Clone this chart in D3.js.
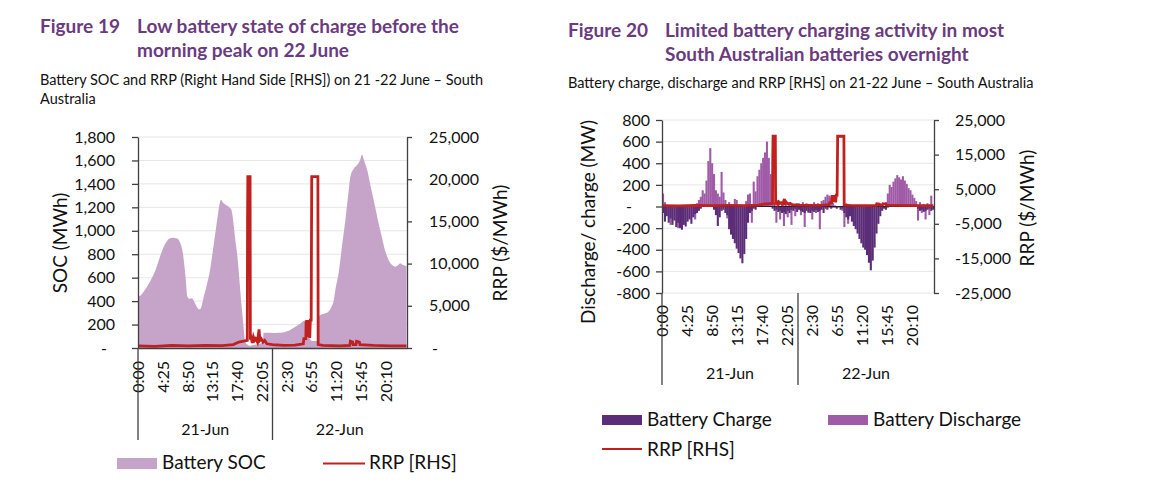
<!DOCTYPE html>
<html>
<head>
<meta charset="utf-8">
<script src="https://cdn.jsdelivr.net/npm/d3@7"></script>
<style>
  body { margin: 0; background: #fff; }
  svg text { font-family: Lato, "Open Sans", sans-serif; fill: #111; }
</style>
</head>
<body>
<svg id="chart" width="1153" height="500"></svg>
<script>
// ---- data ----
// x positions are hours since 0:00 on 21 June (48 hours shown)
const timeTickLabels = ["0:00", "4:25", "8:50", "13:15", "17:40", "22:05", "2:30", "6:55", "11:20", "15:45", "20:10"];
const dayLabels = ["21-Jun", "22-Jun"];

// Figure 19 - battery state of charge (MWh)
const socHours = [0, 0.5, 1, 2, 3, 4, 4.5, 5, 5.5, 6.2, 7, 7.5, 8, 8.5, 8.8, 9.2, 9.6, 10, 10.5, 11, 11.3, 11.8,
  12.2, 12.8, 13.3, 13.8, 14.2, 14.6, 14.8, 15.2, 15.7, 16.3, 16.7, 17, 17.3, 17.8, 18.1, 18.5, 18.8, 19.1, 19.5,
  20, 21, 22, 22.3, 22.4, 23, 24, 25, 26, 27, 28, 29, 29.6, 30, 30.5, 31, 32, 32.2, 32.5, 33, 33.7, 34.4, 34.9,
  35.3, 35.8, 36.4, 37, 37.5, 37.9, 38.5, 39.1, 39.6, 40, 40.2, 40.5, 41, 41.4, 42.3, 43, 43.5, 44.1, 44.7, 45.3,
  45.9, 46.5, 46.8, 47.2, 47.9];
const socMWh = [440, 450, 480, 555, 650, 790, 853, 900, 930, 940, 935, 900, 810, 600, 440, 420, 425, 400, 350, 330, 350, 450,
  523, 650, 810, 980, 1120, 1240, 1265, 1240, 1220, 1200, 1170, 1080, 950, 750, 580, 350, 200, 60, 30,
  20, 30, 40, 60, 130, 130, 128, 130, 135, 150, 180, 210, 230, 200, 100, 60, 60, 260, 280, 290, 300, 340, 400,
  520, 640, 870, 1092, 1300, 1462, 1530, 1561, 1600, 1650, 1620, 1576, 1500, 1405, 1206, 1050, 950, 830, 751, 710,
  694, 710, 723, 710, 700];

// regional reference price ($/MWh), shared by both figures
const rrpHours = [0, 3, 6, 9, 12, 15, 17, 18, 19.5, 19.55, 19.6, 20.0, 20.05, 20.2, 20.4, 20.6, 20.8, 21, 21.3,
  21.6, 21.75, 22, 22.3, 22.6, 23, 24, 26, 28, 29.5, 29.6, 29.95, 30.0, 30.15, 30.25, 30.4, 30.5, 30.65, 30.75,
  30.9, 31.0, 32.1, 32.15, 33, 36, 37.8, 37.9, 38.3, 38.4, 38.9, 39, 39.5, 39.6, 42, 45, 47.9];
const rrpPrice = [250, 200, 300, 250, 300, 280, 400, 700, 900, 15200, 20300, 20300, 1000, 1200, 600, 1300, 900, 1100, 700,
  2200, 900, 1100, 700, 900, 500, 400, 300, 350, 500, 1100, 1100, 3300, 1300, 3300, 1400, 3300, 1200, 3300,
  3300, 20300, 20300, 400, 300, 250, 300, 800, 700, 400, 400, 800, 700, 400, 300, 250, 250];

// Figure 20 - battery charge / discharge (MW), one value per 20-minute slot
const slotHours = 1 / 3;
const dischargeMW = [
  120, 40, 0, 0, -170, 0, 0, 0, -200, 0, 0, 0, 0, 0, 0, 0, 0, -120, 30, 60, 90, 150, 120, 240,
  420, 540, 400, 300, 150, 120, 90, 320, 130, 60, -110, 40, 0, 0, 70, 60, 0, 0, 0, 0, 50, 110, 120, -150,
  230, 140, 280, 340, 400, 450, 500, 600, 450, 300, 100, 40, -150, 60, -120, 40, -180, 60, -100, 30, -170, 20, -90, 30,
  30, -80, 40, -190, 30, -60, 20, -120, 40, -60, 30, -210, 50, 60, 90, 110, 100, 80, 30, 10, 0, 0, 0, -40,
  -190, 30, -160, 20, 0, 0, 0, 0, 0, 0, 0, 0, 0, 0, 0, 0, 0, 0, 20, 30, 10, 0, 40, 120,
  200, 180, 230, 260, 290, 270, 250, 280, 240, 210, 170, 150, 110, 80, 50, -130, 40, -60, 20, -120, 30, -80, 100];
const chargeMW = [
  -60, -140, -90, -150, -110, -170, -130, -190, -150, -200, -215, -170, -185, -140, -120, -160, -100, -70, -60, -40, -20, 0, 0, 0,
  0, 0, 0, -30, -80, -180, -100, -40, -30, -60, -80, -210, -260, -300, -340, -390, -430, -480, -525, -440, -300, -150, -60, -40,
  -20, -30, 0, 0, 0, 0, 0, 0, 0, 0, -20, -40, -30, -50, -40, -60, -50, -70, -40, -60, -30, -40, -20, -50,
  -30, -40, -50, -60, -40, -50, -60, -40, -50, -30, -50, -40, -30, -60, -20, -30, -10, -20, -10, -10, -20, -10, -30, -20,
  -60, -100, -120, -90, -140, -180, -210, -250, -300, -340, -380, -400, -450, -520, -590, -500, -380, -250, -160, -90, -40, -20, -30, -10,
  0, 0, 0, 0, 0, 0, 0, 0, 0, 0, 0, 0, 0, 0, 0, -20, -40, -30, -50, -40, -30, -20, -40, -30];

// ---- styling ----
const titleColor = "#6a3b80";
const socColor = "#c6a3c9";
const rrpColor = "#c0201e";
const chargeColor = "#5b2c77";
const dischargeColor = "#a05ba7";
const gridColor = "#e6e6e6";
const axisColor = "#404040";

const locale = d3.formatLocale({ decimal: ".", thousands: ",", grouping: [3], currency: ["$", ""], minus: "-" });
const fmtNum = locale.format(",");
const acct = d => d === 0 ? "-" : fmtNum(d);
const tickHours = timeTickLabels.map((_, i) => i * 265 / 60);

const svg = d3.select("#chart");

// Titles and subtitles
function heading(x, xText, y, fig, lines, sub, subY) {
  svg.append("text").attr("x", x).attr("y", y)
    .style("font-weight", 700).style("font-size", "19px").style("fill", titleColor).text(fig);
  lines.forEach((t, i) => {
    svg.append("text").attr("x", xText).attr("y", y + i * 24)
      .style("font-weight", 700).style("font-size", "19px").style("fill", titleColor).text(t);
  });
  sub.forEach((t, i) => {
    svg.append("text").attr("x", x).attr("y", subY + i * 19)
      .style("font-size", "14.5px").text(t);
  });
}

heading(40, 137, 33, "Figure 19",
  ["Low battery state of charge before the", "morning peak on 22 June"],
  ["Battery SOC and RRP (Right Hand Side [RHS]) on 21 -22 June \u2013 South", "Australia"], 85);
heading(568, 665, 37, "Figure 20",
  ["Limited battery charging activity in most", "South Australian batteries overnight"],
  ["Battery charge, discharge and RRP [RHS] on 21-22 June \u2013 South Australia"], 88);

// shared helpers
function styleAxis(g, size) {
  g.attr("font-family", null).attr("font-size", null);
  g.selectAll("text").style("font-size", size + "px").style("fill", "#111");
  g.selectAll("line").attr("stroke", axisColor).attr("stroke-width", 1.3);
  g.select(".domain").attr("stroke", axisColor).attr("stroke-width", 1.3);
}

function timeAxis(g, x, yAxis, labelTop, sepBottom, dayY, keepDomain) {
  const ax = g.append("g").attr("transform", `translate(0,${yAxis})`)
    .call(d3.axisBottom(x).tickValues(tickHours).tickSize(0).tickSizeOuter(0)
      .tickFormat((d, i) => timeTickLabels[i]));
  styleAxis(ax, 16);
  if (!keepDomain) ax.select(".domain").remove();
  ax.selectAll("text")
    .attr("y", 0).attr("x", -labelTop).attr("dy", "0.35em")
    .attr("transform", "rotate(-90)").style("text-anchor", "end");
  // day group separators
  g.selectAll(null).data([0, 24]).join("line")
    .attr("x1", d => x(d)).attr("x2", d => x(d))
    .attr("y1", yAxis).attr("y2", sepBottom)
    .attr("stroke", axisColor).attr("stroke-width", 1.3);
  g.selectAll(null).data(dayLabels).join("text")
    .attr("x", (d, i) => x(i * 24 + 12)).attr("y", dayY)
    .attr("text-anchor", "middle").style("font-size", "16px").text(d => d);
}

function gridLines(g, y, ticks, x0, x1) {
  g.append("g").selectAll("line").data(ticks).join("line")
    .attr("x1", x0).attr("x2", x1)
    .attr("y1", d => y(d)).attr("y2", d => y(d))
    .attr("stroke", gridColor).attr("stroke-width", 1);
}

function axisTitle(g, x, y, text) {
  g.append("text").attr("transform", `translate(${x},${y}) rotate(-90)`)
    .attr("text-anchor", "middle").attr("dy", "0.35em")
    .style("font-size", "19px").text(text);
}

// ================= Figure 19 =================
{
  const g = svg.append("g");
  const x = d3.scaleLinear().domain([0, 48]).range([138, 407]);
  const ySoc = d3.scaleLinear().domain([0, 1800]).range([348, 137]);
  const yRrp = d3.scaleLinear().domain([0, 25000]).range([348, 137]);

  gridLines(g, ySoc, d3.range(200, 1801, 200), 138, 407);

  const soc = socHours.map((h, i) => ({ h, v: socMWh[i] }));
  g.append("path").datum(soc)
    .attr("fill", socColor)
    .attr("d", d3.area().x(d => x(d.h)).y0(ySoc(0)).y1(d => ySoc(d.v)).curve(d3.curveMonotoneX));

  const rrp = rrpHours.map((h, i) => ({ h, v: rrpPrice[i] }));
  g.append("path").datum(rrp)
    .attr("fill", "none").attr("stroke", rrpColor).attr("stroke-width", 2.8)
    .attr("stroke-linejoin", "miter")
    .attr("d", d3.line().x(d => x(d.h)).y(d => yRrp(d.v)));

  const left = g.append("g").attr("transform", "translate(138,0)")
    .call(d3.axisLeft(ySoc).tickValues(d3.range(0, 1801, 200)).tickSize(6).tickSizeOuter(0)
      .tickPadding(17).tickFormat(acct));
  styleAxis(left, 16);
  left.selectAll("text").filter(d => d === 0).attr("dx", "-8");

  const right = g.append("g").attr("transform", "translate(407,0)")
    .call(d3.axisRight(yRrp).tickValues(d3.range(0, 25001, 5000)).tickSize(5).tickSizeOuter(0)
      .tickPadding(17).tickFormat(acct));
  styleAxis(right, 16);
  right.selectAll("text").filter(d => d === 0).attr("dx", "3");

  timeAxis(g, x, 348, 13, 440, 435, true);

  axisTitle(g, 60, 243, "SOC (MWh)");
  axisTitle(g, 500, 243, "RRP ($/MWh)");

  // legend
  g.append("rect").attr("x", 117).attr("y", 458).attr("width", 40).attr("height", 11).attr("fill", socColor);
  g.append("text").attr("x", 162).attr("y", 469).style("font-size", "19px").text("Battery SOC");
  g.append("line").attr("x1", 323).attr("x2", 365).attr("y1", 463.5).attr("y2", 463.5)
    .attr("stroke", rrpColor).attr("stroke-width", 2);
  g.append("text").attr("x", 369).attr("y", 469).style("font-size", "19px").text("RRP [RHS]");
}

// ================= Figure 20 =================
{
  const g = svg.append("g");
  const x = d3.scaleLinear().domain([0, 48]).range([662, 934]);
  const yMw = d3.scaleLinear().domain([-800, 800]).range([293, 120]);
  const yRrp = d3.scaleLinear().domain([-25000, 25000]).range([293, 120]);

  gridLines(g, yMw, d3.range(-800, 801, 200).filter(d => d !== 0), 662, 934);

  function bars(values, color) {
    g.append("g").selectAll("rect")
      .data(values.map((v, i) => ({ h: i * slotHours, v })))
      .join("rect")
      .attr("x", d => x(d.h))
      .attr("width", d => x(d.h + slotHours) - x(d.h) + 0.2)
      .attr("y", d => yMw(Math.max(0, d.v)))
      .attr("height", d => Math.abs(yMw(d.v) - yMw(0)))
      .attr("fill", color);
  }
  bars(dischargeMW, dischargeColor);
  bars(chargeMW, chargeColor);

  g.append("line").attr("x1", 662).attr("x2", 934).attr("y1", yMw(0)).attr("y2", yMw(0))
    .attr("stroke", "#222").attr("stroke-width", 1);

  const rrp = rrpHours.map((h, i) => ({ h, v: rrpPrice[i] }));
  g.append("path").datum(rrp)
    .attr("fill", "none").attr("stroke", rrpColor).attr("stroke-width", 2.8)
    .attr("d", d3.line().x(d => x(d.h)).y(d => yRrp(d.v)));

  const left = g.append("g").attr("transform", "translate(662,0)")
    .call(d3.axisLeft(yMw).tickValues(d3.range(-800, 801, 200)).tickSize(6).tickSizeOuter(0)
      .tickPadding(6).tickFormat(acct));
  styleAxis(left, 16);
  left.selectAll("text").filter(d => d === 0).attr("dx", "-18");

  const right = g.append("g").attr("transform", "translate(934,0)")
    .call(d3.axisRight(yRrp).tickValues(d3.range(-25000, 25001, 10000)).tickSize(5).tickSizeOuter(0)
      .tickPadding(16).tickFormat(acct));
  styleAxis(right, 16);

  timeAxis(g, x, 293, 12, 385, 379, false);

  axisTitle(g, 588, 222, "Discharge/ charge (MW)");
  axisTitle(g, 1027, 208, "RRP ($/MWh)");

  // legend
  g.append("rect").attr("x", 602).attr("y", 415).attr("width", 40).attr("height", 10).attr("fill", chargeColor);
  g.append("text").attr("x", 647).attr("y", 426).style("font-size", "19px").text("Battery Charge");
  g.append("rect").attr("x", 828).attr("y", 415).attr("width", 40).attr("height", 10).attr("fill", dischargeColor);
  g.append("text").attr("x", 873).attr("y", 426).style("font-size", "19px").text("Battery Discharge");
  g.append("line").attr("x1", 602).attr("x2", 642).attr("y1", 449).attr("y2", 449)
    .attr("stroke", rrpColor).attr("stroke-width", 2);
  g.append("text").attr("x", 647).attr("y", 456).style("font-size", "19px").text("RRP [RHS]");
}
</script>
</body>
</html>
